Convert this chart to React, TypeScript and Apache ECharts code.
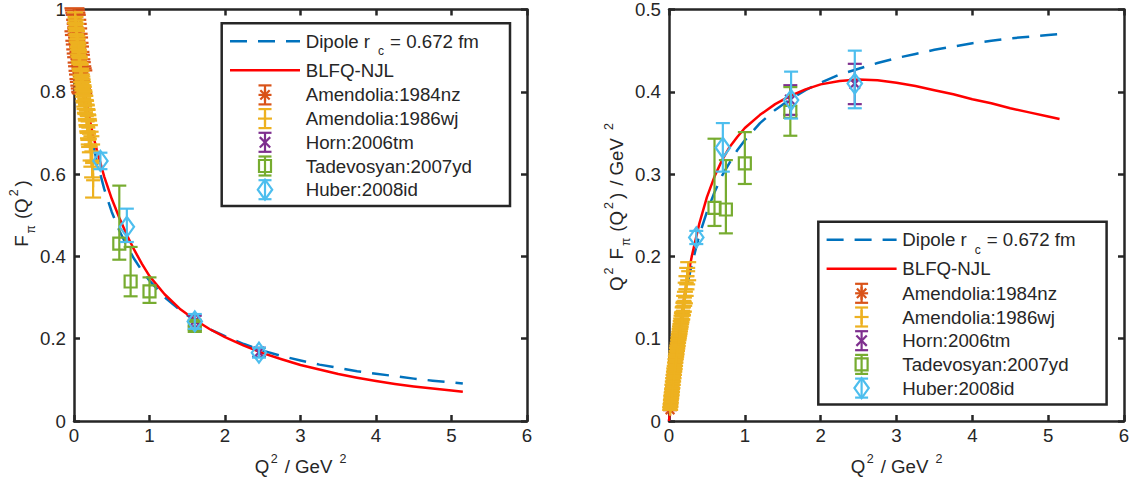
import React, { useEffect, useRef } from "react";
import * as echarts from "echarts";

// ---------- data ----------
const xTicks = [0, 1, 2, 3, 4, 5, 6];
const leftYTicks = [0, 0.2, 0.4, 0.6, 0.8, 1];
const rightYTicks = [0, 0.1, 0.2, 0.3, 0.4, 0.5];

const curveNames = ["Dipole", "BLFQ-NJL"];
const dataNames = ["Amendolia:1984nz", "Amendolia:1986wj", "Horn:2006tm", "Tadevosyan:2007yd", "Huber:2008id"];

// model curves, Q^2 sample positions
const curveQ2 = [0, 0.025, 0.05, 0.075, 0.1, 0.15, 0.2, 0.25, 0.3, 0.4, 0.5, 0.6, 0.7, 0.8, 0.9, 1.0, 1.2, 1.4, 1.6, 1.8, 2.0, 2.25, 2.5, 2.75, 3.0, 3.25, 3.5, 3.75, 4.0, 4.25, 4.5, 4.75, 5.0, 5.15];
// left panel: F_pi(Q^2)
const dipoleLeft = [1.0, 0.954, 0.912, 0.873, 0.838, 0.775, 0.721, 0.674, 0.633, 0.564, 0.508, 0.463, 0.425, 0.393, 0.365, 0.341, 0.301, 0.27, 0.244, 0.223, 0.206, 0.187, 0.171, 0.158, 0.147, 0.137, 0.129, 0.121, 0.115, 0.109, 0.103, 0.098, 0.094, 0.091];
const blfqLeft = [1.0, 0.957, 0.918, 0.882, 0.85, 0.792, 0.74, 0.697, 0.66, 0.594, 0.54, 0.494, 0.452, 0.415, 0.382, 0.352, 0.308, 0.273, 0.246, 0.223, 0.204, 0.183, 0.165, 0.15, 0.136, 0.125, 0.114, 0.105, 0.097, 0.09, 0.084, 0.079, 0.074, 0.071];
// right panel: Q^2 F_pi(Q^2)
const dipoleRight = [0, 0.024, 0.046, 0.065, 0.084, 0.116, 0.144, 0.169, 0.19, 0.226, 0.254, 0.278, 0.298, 0.314, 0.329, 0.341, 0.362, 0.378, 0.391, 0.402, 0.411, 0.421, 0.428, 0.435, 0.441, 0.446, 0.451, 0.455, 0.459, 0.462, 0.465, 0.467, 0.469, 0.47];
const blfqRight = [0, 0.024, 0.046, 0.066, 0.085, 0.119, 0.15, 0.176, 0.2, 0.24, 0.272, 0.297, 0.317, 0.333, 0.345, 0.356, 0.372, 0.385, 0.395, 0.403, 0.409, 0.413, 0.415, 0.414, 0.411, 0.407, 0.402, 0.397, 0.391, 0.386, 0.38, 0.375, 0.37, 0.367];

// [Q2, value, error]
const amend84Left = [
  [0.006, 0.975, 0.028], [0.012, 0.968, 0.030], [0.018, 0.958, 0.034], [0.024, 0.951, 0.036],
  [0.030, 0.939, 0.036], [0.036, 0.929, 0.036], [0.042, 0.919, 0.035], [0.048, 0.906, 0.035],
  [0.054, 0.897, 0.035], [0.060, 0.885, 0.034], [0.066, 0.876, 0.034], [0.072, 0.864, 0.033],
  [0.078, 0.857, 0.033], [0.084, 0.847, 0.032], [0.090, 0.840, 0.032], [0.096, 0.831, 0.031],
  [0.102, 0.827, 0.030], [0.110, 0.824, 0.028],
];
const amend86Left = [
  [0.015, 0.980, 0.013], [0.020, 0.969, 0.013], [0.025, 0.961, 0.013], [0.030, 0.952, 0.013],
  [0.035, 0.940, 0.013], [0.040, 0.934, 0.013], [0.045, 0.922, 0.013], [0.050, 0.916, 0.013],
  [0.055, 0.905, 0.014], [0.060, 0.899, 0.014], [0.065, 0.888, 0.014], [0.070, 0.882, 0.014],
  [0.075, 0.871, 0.015], [0.080, 0.866, 0.015], [0.085, 0.855, 0.015], [0.090, 0.850, 0.016],
  [0.095, 0.840, 0.016], [0.100, 0.834, 0.016], [0.105, 0.825, 0.017], [0.110, 0.820, 0.017],
  [0.115, 0.812, 0.018], [0.120, 0.806, 0.018], [0.125, 0.797, 0.019], [0.130, 0.793, 0.019],
  [0.135, 0.784, 0.020], [0.140, 0.779, 0.021], [0.145, 0.770, 0.021], [0.150, 0.768, 0.022],
  [0.155, 0.757, 0.023], [0.160, 0.754, 0.024], [0.165, 0.744, 0.025], [0.170, 0.741, 0.026],
  [0.175, 0.731, 0.027], [0.180, 0.728, 0.028], [0.185, 0.716, 0.029], [0.190, 0.713, 0.030],
  [0.195, 0.703, 0.031], [0.200, 0.698, 0.032], [0.210, 0.686, 0.033], [0.220, 0.668, 0.035],
  [0.230, 0.655, 0.037], [0.240, 0.632, 0.040], [0.253, 0.585, 0.042],
];
const amend84Right = [
  [0.014, 0.0136, 0.0005], [0.020, 0.0193, 0.0007], [0.026, 0.0249, 0.0009], [0.032, 0.0304, 0.0011],
  [0.038, 0.0356, 0.0013], [0.044, 0.0408, 0.0015], [0.050, 0.0458, 0.0017], [0.056, 0.0506, 0.0019],
  [0.062, 0.0555, 0.0021], [0.068, 0.0601, 0.0023], [0.074, 0.0646, 0.0024], [0.080, 0.0690, 0.0026],
  [0.086, 0.0733, 0.0027], [0.092, 0.0776, 0.0029], [0.098, 0.0818, 0.003], [0.104, 0.0859, 0.0031],
  [0.110, 0.0904, 0.0031], [0.116, 0.0946, 0.0031],
];
const amend86Right = [
  [0.015, 0.015, 0.0015], [0.020, 0.019, 0.0015], [0.025, 0.024, 0.0015], [0.030, 0.029, 0.0015],
  [0.035, 0.033, 0.0015], [0.040, 0.037, 0.0015], [0.045, 0.042, 0.002], [0.050, 0.046, 0.002],
  [0.055, 0.050, 0.002], [0.060, 0.054, 0.002], [0.065, 0.058, 0.002], [0.070, 0.062, 0.002],
  [0.075, 0.065, 0.002], [0.080, 0.069, 0.002], [0.085, 0.073, 0.002], [0.090, 0.077, 0.002],
  [0.095, 0.080, 0.002], [0.100, 0.083, 0.002], [0.105, 0.087, 0.002], [0.110, 0.090, 0.002],
  [0.115, 0.093, 0.002], [0.120, 0.097, 0.002], [0.125, 0.100, 0.002], [0.130, 0.103, 0.0025],
  [0.135, 0.106, 0.0025], [0.140, 0.109, 0.003], [0.145, 0.112, 0.003], [0.150, 0.115, 0.003],
  [0.155, 0.118, 0.0035], [0.160, 0.121, 0.0035], [0.165, 0.124, 0.004], [0.170, 0.127, 0.004],
  [0.175, 0.128, 0.0045], [0.180, 0.133, 0.005], [0.185, 0.134, 0.005], [0.190, 0.138, 0.0055],
  [0.195, 0.139, 0.006], [0.200, 0.146, 0.006], [0.210, 0.150, 0.007], [0.220, 0.160, 0.008],
  [0.230, 0.168, 0.008], [0.240, 0.176, 0.010], [0.253, 0.182, 0.011],
];
// [Q2, value, low, high]
const hornLeft = [[1.60, 0.243, 0.230, 0.256], [2.45, 0.167, 0.156, 0.178]];
const tadevosyanLeft = [[0.60, 0.431, 0.392, 0.572], [0.75, 0.339, 0.303, 0.423], [1.00, 0.315, 0.287, 0.349], [1.60, 0.231, 0.221, 0.241]];
const huberLeft = [[0.35, 0.632, 0.612, 0.652], [0.70, 0.472, 0.435, 0.516], [1.60, 0.242, 0.224, 0.260], [2.45, 0.166, 0.154, 0.178]];
const hornRight = [[1.60, 0.390, 0.372, 0.408], [2.45, 0.410, 0.385, 0.434]];
const tadevosyanRight = [[0.60, 0.259, 0.237, 0.343], [0.75, 0.257, 0.228, 0.317], [1.00, 0.313, 0.288, 0.351], [1.60, 0.3755, 0.3466, 0.4057]];
const huberRight = [[0.36, 0.223, 0.215, 0.231], [0.71, 0.332, 0.303, 0.362], [1.61, 0.390, 0.3675, 0.4245], [2.45, 0.410, 0.380, 0.450]];

// ---------- styling ----------
const FONT = "'Liberation Sans', Arial, Helvetica, sans-serif";
const INK = "#262626";
const C_DIPOLE = "#0072BD";
const C_BLFQ = "#FF0000";
const C_DATA = ["#D95319", "#EDB120", "#7E2F8E", "#77AC30", "#4DBEEE"];
const MARKERS = ["asterisk", "plus", "cross", "square", "diamond"];
const FS = 18.7;
const DASH = [17, 11];
const ELW = 2.2;

let measureCtx: CanvasRenderingContext2D | null = null;
function textWidth(t: string, size: number) {
  if (!measureCtx) measureCtx = document.createElement("canvas").getContext("2d");
  measureCtx!.font = `${size}px 'Liberation Sans', Arial, sans-serif`;
  return measureCtx!.measureText(t).width;
}

const SIZE: any = { n: FS, sup: 12.5, sub: 12 };
const DY: any = { n: 0, sup: -7.5, sub: 10 };

function scripted(pieces: any[], x: number, y: number, rotation: number, anchor: "center" | "left") {
  let cur = 0;
  const children: any[] = [];
  for (const [t, k, gap] of pieces) {
    cur += gap || 0;
    children.push({
      type: "text",
      x: cur,
      y: DY[k],
      z: 101,
      style: {
        text: t, fontSize: SIZE[k], fontFamily: FONT, fill: INK,
        align: "left", verticalAlign: "middle", textAlign: "left", textVerticalAlign: "middle",
      },
    });
    cur += textWidth(t, SIZE[k]);
  }
  const shift = anchor === "center" ? -cur / 2 : 0;
  children.forEach((c) => (c.x += shift));
  return { type: "group", x, y, rotation, z: 101, children };
}

function seg(x1: number, y1: number, x2: number, y2: number, color: string, lw: number, z = 0) {
  const el: any = { type: "line", shape: { x1, y1, x2, y2 }, style: { stroke: color, lineWidth: lw } };
  if (z) el.z = z;
  return el;
}

function glyph(kind: string, cx: number, cy: number, color: string, z = 0, astR = 6.5): any[] {
  const lw = ELW;
  const base: any = { stroke: color, lineWidth: lw, fill: "none" };
  const out: any[] = [];
  if (kind === "asterisk") {
    const r = astR;
    const d = r * 0.72;
    out.push(seg(cx, cy - r, cx, cy + r, color, lw, z), seg(cx - r, cy, cx + r, cy, color, lw, z),
      seg(cx - d, cy - d, cx + d, cy + d, color, lw, z), seg(cx - d, cy + d, cx + d, cy - d, color, lw, z));
  } else if (kind === "plus") {
    const r = 7;
    out.push(seg(cx - r, cy, cx + r, cy, color, lw, z), seg(cx, cy - r, cx, cy + r, color, lw, z));
  } else if (kind === "cross") {
    const d = 5.2;
    out.push(seg(cx - d, cy - d, cx + d, cy + d, color, lw, z), seg(cx - d, cy + d, cx + d, cy - d, color, lw, z));
  } else if (kind === "square") {
    const el: any = { type: "rect", shape: { x: cx - 6, y: cy - 6, width: 12, height: 12 }, style: { ...base } };
    if (z) el.z = z;
    out.push(el);
  } else if (kind === "diamond") {
    const el: any = {
      type: "polygon",
      shape: { points: [[cx, cy - 10], [cx + 7.2, cy], [cx, cy + 10], [cx - 7.2, cy]] },
      style: { ...base },
    };
    if (z) el.z = z;
    out.push(el);
  }
  return out;
}

function errorBar(cx: number, yLo: number, yHi: number, color: string, cap: number, z = 0) {
  return [
    seg(cx, yLo, cx, yHi, color, ELW, z),
    seg(cx - cap, yLo, cx + cap, yLo, color, ELW, z),
    seg(cx - cap, yHi, cx + cap, yHi, color, ELW, z),
  ];
}

const sym = (rows: number[][]) => rows.map(([x, y, e]) => [x, y, y - e, y + e]);

function curveSeries(name: string, gi: number, ys: number[], color: string, dashed: boolean) {
  return {
    name,
    type: "line",
    xAxisIndex: gi,
    yAxisIndex: gi,
    data: curveQ2.map((x, i) => [x, ys[i]]),
    showSymbol: false,
    symbol: "none",
    smooth: false,
    silent: true,
    z: 2,
    lineStyle: { color, width: 2.5, type: dashed ? DASH : "solid", cap: "butt", join: "round" },
  };
}

function pointSeries(name: string, gi: number, rows: number[][], idx: number, cap = 7, astR = 6.5) {
  const color = C_DATA[idx];
  const kind = MARKERS[idx];
  return {
    name,
    type: "custom",
    xAxisIndex: gi,
    yAxisIndex: gi,
    data: rows,
    clip: false,
    silent: true,
    z: 3,
    encode: { x: 0, y: [1, 2, 3] },
    renderItem: (_params: any, api: any) => {
      const x = api.value(0), y = api.value(1), lo = api.value(2), hi = api.value(3);
      const c = api.coord([x, y]);
      const a = api.coord([x, lo]);
      const b = api.coord([x, hi]);
      return {
        type: "group",
        children: [...errorBar(c[0], a[1], b[1], color, cap), ...glyph(kind, c[0], c[1], color, 0, astR)],
      };
    },
  };
}

function legend(bx: number, by: number) {
  const Z = 100;
  const els: any[] = [];
  els.push({
    type: "rect", z: Z,
    shape: { x: bx, y: by, width: 288.3, height: 182.8 },
    style: { fill: "#ffffff", stroke: INK, lineWidth: 2.5 },
  });
  const rows = [18, 47, 71.6, 95.3, 119, 142.7, 166.4];
  const lx1 = bx + 8.3, lx2 = bx + 78.3, mx = bx + 43.3, tx = bx + 84;
  els.push({
    type: "line", z: Z + 1,
    shape: { x1: lx1, y1: by + rows[0], x2: lx2, y2: by + rows[0] },
    style: { stroke: C_DIPOLE, lineWidth: 2.5, lineDash: DASH },
  });
  els.push(scripted([["Dipole r", "n"], ["c", "sub", 8], ["= 0.672 fm", "n", 6]], tx, by + rows[0], 0, "left"));
  els.push(seg(lx1, by + rows[1], lx2, by + rows[1], C_BLFQ, 2.5, Z + 1));
  els.push(scripted([[curveNames[1], "n"]], tx, by + rows[1], 0, "left"));
  dataNames.forEach((nm, i) => {
    const y = by + rows[2 + i];
    els.push(...errorBar(mx, y + 9.5, y - 9.5, C_DATA[i], 6.5, Z + 1));
    els.push(...glyph(MARKERS[i], mx, y, C_DATA[i], Z + 1));
    els.push(scripted([[nm, "n"]], tx, y, 0, "left"));
  });
  return els;
}

function buildOption() {
  const xAx = (gi: number, position: string, lab: boolean) => ({
    type: "value",
    gridIndex: gi,
    position,
    min: xTicks[0],
    max: xTicks[xTicks.length - 1],
    interval: xTicks[1] - xTicks[0],
    axisLine: { show: true, onZero: false, lineStyle: { color: INK, width: 2.5 } },
    axisTick: { show: true, inside: true, length: 6, lineStyle: { color: INK, width: 2.5 } },
    axisLabel: { show: lab, color: INK, fontSize: FS, fontFamily: FONT, margin: 5 },
    splitLine: { show: false },
  });
  const yAx = (gi: number, position: string, lab: boolean, ticks: number[]) => ({
    type: "value",
    gridIndex: gi,
    position,
    min: ticks[0],
    max: ticks[ticks.length - 1],
    interval: +(ticks[1] - ticks[0]).toFixed(6),
    axisLine: { show: true, onZero: false, lineStyle: { color: INK, width: 2.5 } },
    axisTick: { show: true, inside: true, length: 6, lineStyle: { color: INK, width: 2.5 } },
    axisLabel: { show: lab, color: INK, fontSize: FS, fontFamily: FONT, margin: 8 },
    splitLine: { show: false },
  });

  const series: any[] = [
    curveSeries(curveNames[0], 0, dipoleLeft, C_DIPOLE, true),
    curveSeries(curveNames[1], 0, blfqLeft, C_BLFQ, false),
    curveSeries(curveNames[0], 1, dipoleRight, C_DIPOLE, true),
    curveSeries(curveNames[1], 1, blfqRight, C_BLFQ, false),
    pointSeries(dataNames[0], 0, sym(amend84Left), 0, 10, 8),
    pointSeries(dataNames[1], 0, sym(amend86Left), 1, 8),
    pointSeries(dataNames[2], 0, hornLeft, 2),
    pointSeries(dataNames[3], 0, tadevosyanLeft, 3),
    pointSeries(dataNames[4], 0, huberLeft, 4),
    pointSeries(dataNames[0], 1, sym(amend84Right), 0, 7, 6),
    pointSeries(dataNames[1], 1, sym(amend86Right), 1, 8),
    pointSeries(dataNames[2], 1, hornRight, 2),
    pointSeries(dataNames[3], 1, tadevosyanRight, 3),
    pointSeries(dataNames[4], 1, huberRight, 4),
  ];

  const xName = [["Q", "n"], ["2", "sup", 1.5], ["/ GeV", "n", 7], ["2", "sup", 7]];
  const graphics: any[] = [
    ...legend(221.7, 23.3),
    ...legend(818.3, 221.7),
    scripted(xName, 300.5, 466, 0, "center"),
    scripted(xName, 896.5, 466, 0, "center"),
    scripted([["F", "n"], ["π", "sub", 2], ["(Q", "n", 6], ["2", "sup", 2], [")", "n", 3]], 21, 213.5, Math.PI / 2, "center"),
    scripted(
      [["Q", "n"], ["2", "sup", 2], ["F", "n", 8], ["π", "sub", 2], ["(Q", "n", 6], ["2", "sup", 2], [")", "n", 3], ["/ GeV", "n", 7], ["2", "sup", 8]],
      616, 207, Math.PI / 2, "center"
    ),
  ];

  return {
    animation: false,
    backgroundColor: "#ffffff",
    textStyle: { fontFamily: FONT },
    grid: [
      { left: 74, top: 6, width: 453, height: 415 },
      { left: 669, top: 6, width: 455, height: 415 },
    ],
    xAxis: [xAx(0, "bottom", true), xAx(1, "bottom", true), xAx(0, "top", false), xAx(1, "top", false)],
    yAxis: [
      yAx(0, "left", true, leftYTicks),
      yAx(1, "left", true, rightYTicks),
      yAx(0, "right", false, leftYTicks),
      yAx(1, "right", false, rightYTicks),
    ],
    series,
    graphic: { elements: graphics },
  };
}

export default function App() {
  const ref = useRef<HTMLDivElement>(null);
  useEffect(() => {
    if (!ref.current) return;
    const chart = echarts.init(ref.current, null, { renderer: "svg" });
    chart.setOption(buildOption() as any);
    return () => chart.dispose();
  }, []);
  return (
    <div
      ref={ref}
      style={{ position: "fixed", left: 0, top: 0, width: 1134, height: 485, background: "#ffffff" }}
    />
  );
}
